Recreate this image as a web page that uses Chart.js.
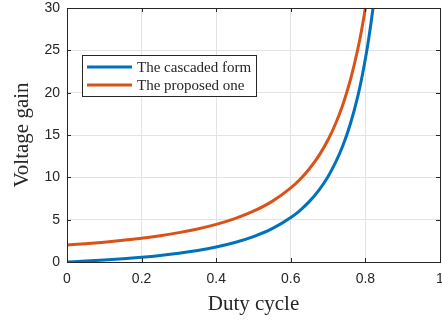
<!DOCTYPE html>
<html>
<head>
<meta charset="utf-8">
<script src="https://cdn.jsdelivr.net/npm/chart.js@4/dist/chart.umd.min.js"></script>
<style>
 html, body { margin: 0; padding: 0; background: #fff; }
 #wrap { width: 442px; height: 323px; }
</style>
</head>
<body>
<div id="wrap"><canvas id="gainChart" width="442" height="323"></canvas></div>
<script>
/* ── DATA ───────────────────────────────────────────────── */
const duty = [0, 0.05, 0.1, 0.15, 0.2, 0.25, 0.3, 0.35, 0.4, 0.45, 0.5, 0.55, 0.6, 0.625, 0.65, 0.675, 0.7, 0.72, 0.74, 0.76, 0.78, 0.79, 0.8, 0.81, 0.82, 0.83];
const cascadedGain = [0, 0.108, 0.235, 0.384, 0.563, 0.778, 1.041, 1.367, 1.778, 2.306, 3.0, 3.938, 5.25, 6.111, 7.163, 8.467, 10.11, 11.76, 13.79, 16.36, 19.66, 21.68, 24.0, 26.7, 29.86, 33.6];
const proposedGain = [2.0, 2.161, 2.346, 2.561, 2.813, 3.111, 3.469, 3.905, 4.444, 5.124, 6.0, 7.16, 8.75, 9.778, 11.02, 12.54, 14.44, 16.33, 18.64, 21.53, 25.21, 27.44, 30.0, 32.96, 36.3, 40.0];
const seriesNames = ['The cascaded form', 'The proposed one'];
const xTicks = [0, 0.2, 0.4, 0.6, 0.8, 1];
const yTicks = [0, 5, 10, 15, 20, 25, 30];

const BLUE = '#0072BD', ORANGE = '#D95319', INK = '#262626';

const pts = ys => duty.map((d, i) => ({ x: d, y: ys[i] }));

/* ── FRAME, INWARD TICKS, LEGEND ────────────────────────── */
const boxPlugin = {
 id: 'boxPlugin',
 afterDatasetsDraw(chart) {
  const { ctx, chartArea: a, scales: { x, y } } = chart;
  ctx.save();
  ctx.strokeStyle = INK;
  ctx.lineWidth = 1;
  ctx.beginPath();
  xTicks.forEach(v => {
   const px = Math.round(x.getPixelForValue(v)) + 0.5;
   ctx.moveTo(px, a.bottom); ctx.lineTo(px, a.bottom - 4);
   ctx.moveTo(px, a.top); ctx.lineTo(px, a.top + 4);
  });
  yTicks.forEach(v => {
   const py = Math.round(y.getPixelForValue(v)) + 0.5;
   ctx.moveTo(a.left, py); ctx.lineTo(a.left + 4, py);
   ctx.moveTo(a.right, py); ctx.lineTo(a.right - 4, py);
  });
  ctx.stroke();
  ctx.strokeRect(Math.round(a.left) + 0.5, Math.round(a.top) + 0.5, Math.round(a.right - a.left), Math.round(a.bottom - a.top));

  // legend box
  const lx = 82.5, ly = 55.5, lw = 174, lh = 41;
  ctx.fillStyle = '#fff';
  ctx.fillRect(lx, ly, lw, lh);
  ctx.strokeStyle = INK;
  ctx.strokeRect(lx, ly, lw, lh);
  ctx.font = '15px "Liberation Serif", "Times New Roman", serif';
  ctx.textBaseline = 'middle';
  chart.data.datasets.forEach((ds, i) => {
   const cy = 67 + i * 18;
   ctx.strokeStyle = ds.borderColor;
   ctx.lineWidth = 3;
   ctx.beginPath(); ctx.moveTo(87, cy); ctx.lineTo(132, cy); ctx.stroke();
   ctx.fillStyle = INK;
   ctx.fillText(ds.label, 137, cy + 1);
  });
  ctx.restore();
 }
};

/* ── CHART ──────────────────────────────────────────────── */
const tickFont = { family: '"Liberation Sans", Arial, sans-serif', size: 14 };
const titleFont = { family: '"Liberation Serif", "Times New Roman", serif', size: 21 };
const noEdgePad = s => { s.paddingTop = 0; s.paddingBottom = 0; s.paddingLeft = 0; s.paddingRight = 0; };

new Chart(document.getElementById('gainChart'), {
 type: 'line',
 data: {
  datasets: [
   { label: seriesNames[0], data: pts(cascadedGain), borderColor: BLUE, borderWidth: 3, pointRadius: 0, cubicInterpolationMode: 'monotone', clip: 0 },
   { label: seriesNames[1], data: pts(proposedGain), borderColor: ORANGE, borderWidth: 3, pointRadius: 0, cubicInterpolationMode: 'monotone', clip: 0 }
  ]
 },
 options: {
  responsive: false,
  animation: false,
  layout: { padding: { top: 8, right: 2, left: 0, bottom: 0 } },
  plugins: { legend: { display: false }, tooltip: { enabled: false } },
  scales: {
   x: {
    type: 'linear', min: 0, max: 1,
    afterBuildTicks: s => { s.ticks = xTicks.map(v => ({ value: v })); },
    afterFit: s => { s.height = 61; noEdgePad(s); },
    grid: { color: '#e3e3e3', drawTicks: false },
    border: { display: false },
    ticks: { color: INK, font: tickFont, padding: 9, maxRotation: 0, callback: v => String(v) },
    title: { display: true, text: 'Duty cycle', color: INK, font: titleFont, padding: { top: 0, bottom: 6 } }
   },
   y: {
    type: 'linear', min: 0, max: 30,
    afterBuildTicks: s => { s.ticks = yTicks.map(v => ({ value: v })); },
    afterFit: s => { s.width = 67; noEdgePad(s); },
    grid: { color: '#e3e3e3', drawTicks: false },
    border: { display: false },
    ticks: { color: INK, font: tickFont, padding: 7 },
    title: { display: true, text: 'Voltage gain', color: INK, font: titleFont, padding: { top: 10, bottom: 0 } }
   }
  }
 },
 plugins: [boxPlugin]
});
</script>
</body>
</html>
